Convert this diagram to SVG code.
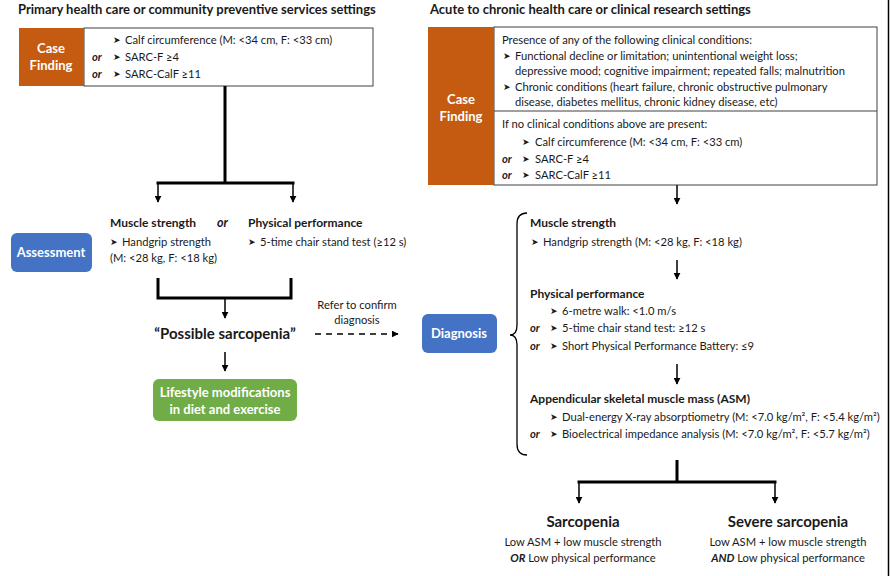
<svg xmlns="http://www.w3.org/2000/svg" width="890" height="576" viewBox="0 0 890 576">
<style>
.t{font-family:Lato,'Open Sans',sans-serif;font-size:11.2px;fill:#1a1a1a}
.b{font-weight:bold}
.hd{font-family:Lato,'Open Sans',sans-serif;font-size:12px;font-weight:bold;fill:#1a1a1a}
.h{font-family:Lato,'Open Sans',sans-serif;font-size:13px;font-weight:bold;fill:#1a1a1a}
.or{font-weight:bold;font-style:italic}
.w{font-family:Lato,'Open Sans',sans-serif;font-size:13px;font-weight:bold;fill:#fff;text-anchor:middle}
.ar{font-family:'DejaVu Sans',sans-serif;font-size:9px;fill:#1a1a1a}
.big{font-family:Lato,'Open Sans',sans-serif;font-size:15px;font-weight:bold;fill:#1a1a1a;text-anchor:middle}
.c{text-anchor:middle}
.thick{stroke:#000;stroke-width:3;fill:none}
.thin{stroke:#000;stroke-width:1.5;fill:none}
.box{fill:#fff;stroke:#404040;stroke-width:1}
</style>
<defs>
<marker id="ah" viewBox="0 0 10 10" refX="9" refY="5" markerWidth="7" markerHeight="7" markerUnits="userSpaceOnUse" orient="auto">
<path d="M0,0 L10,5 L0,10 z" fill="#000"/>
</marker>
</defs>
<rect width="890" height="576" fill="#fff"/>
<line x1="888.5" y1="0" x2="888.5" y2="576" stroke="#000" stroke-width="1.5"/>

<text class="h" x="18" y="14">Primary health care or community preventive services settings</text>
<text class="h" x="430" y="14">Acute to chronic health care or clinical research settings</text>

<g id="left-case-finding">
<rect class="box" x="84" y="28" width="289" height="58"/>
<rect x="19" y="28" width="65" height="58" fill="#C55A11"/>
<text class="w" x="51" y="53">Case</text>
<text class="w" x="51" y="70">Finding</text>
<text class="ar" x="113" y="43">➤</text><text class="t" x="125" y="44">Calf circumference (M: &lt;34 cm, F: &lt;33 cm)</text>
<text class="t or" x="92" y="61">or</text><text class="ar" x="113" y="60">➤</text><text class="t" x="125" y="61">SARC-F ≥4</text>
<text class="t or" x="92" y="78">or</text><text class="ar" x="113" y="77">➤</text><text class="t" x="125" y="78">SARC-CalF ≥11</text>
</g>

<g id="assessment">
<rect x="11" y="233" width="81" height="39" rx="6" fill="#4472C4"/>
<text class="w" x="51" y="257">Assessment</text>
<text class="hd" x="110" y="227">Muscle strength</text>
<text class="t or" x="217" y="227" style="font-size:12.5px">or</text>
<text class="hd" x="248" y="227">Physical performance</text>
<text class="ar" x="110" y="245">➤</text><text class="t" x="122" y="246">Handgrip strength</text>
<text class="t" x="110" y="262">(M: &lt;28 kg, F: &lt;18 kg)</text>
<text class="ar" x="248" y="245">➤</text><text class="t" x="260" y="246">5-time chair stand test (≥12 s)</text>
</g>

<g id="possible-sarcopenia">
<text class="big" x="225" y="339">“Possible sarcopenia”</text>
</g>

<g id="lifestyle">
<rect x="153" y="379" width="144" height="42" rx="6" fill="#70AD47"/>
<text class="w" x="225" y="397">Lifestyle modifications</text>
<text class="w" x="225" y="414">in diet and exercise</text>
</g>

<g id="refer-label">
<text class="t c" x="357" y="309">Refer to confirm</text>
<text class="t c" x="357" y="324">diagnosis</text>
</g>

<g id="right-case-finding">
<rect class="box" x="494" y="27" width="383" height="158"/>
<line x1="494" y1="111" x2="877" y2="111" stroke="#404040" stroke-width="1"/>
<rect x="428" y="27" width="66" height="158" fill="#C55A11"/>
<text class="w" x="461" y="104">Case</text>
<text class="w" x="461" y="121">Finding</text>
<text class="t" x="502" y="44">Presence of any of the following clinical conditions:</text>
<text class="ar" x="503" y="59">➤</text><text class="t" x="515" y="60">Functional decline or limitation; unintentional weight loss;</text>
<text class="t" x="515" y="75">depressive mood; cognitive impairment; repeated falls; malnutrition</text>
<text class="ar" x="503" y="90">➤</text><text class="t" x="515" y="91">Chronic conditions (heart failure, chronic obstructive pulmonary</text>
<text class="t" x="515" y="106">disease, diabetes mellitus, chronic kidney disease, etc)</text>
<text class="t" x="502" y="128">If no clinical conditions above are present:</text>
<text class="ar" x="522" y="145">➤</text><text class="t" x="535" y="146">Calf circumference (M: &lt;34 cm, F: &lt;33 cm)</text>
<text class="t or" x="502" y="163">or</text><text class="ar" x="522" y="162">➤</text><text class="t" x="535" y="163">SARC-F ≥4</text>
<text class="t or" x="502" y="179">or</text><text class="ar" x="522" y="178">➤</text><text class="t" x="535" y="179">SARC-CalF ≥11</text>
</g>

<g id="diagnosis">
<rect x="422" y="314" width="75" height="39" rx="6" fill="#4472C4"/>
<text class="w" x="459" y="338">Diagnosis</text>
<path d="M527,213 Q517,213 517,224 L517,325 Q517,335 510,335 Q517,335 517,345 L517,444 Q517,455 527,455" fill="none" stroke="#000" stroke-width="1.3"/>
<text class="hd" x="530" y="227">Muscle strength</text>
<text class="ar" x="531" y="245">➤</text><text class="t" x="543" y="246">Handgrip strength (M: &lt;28 kg, F: &lt;18 kg)</text>
<text class="hd" x="530" y="298">Physical performance</text>
<text class="ar" x="550" y="314">➤</text><text class="t" x="562" y="315">6-metre walk: &lt;1.0 m/s</text>
<text class="t or" x="530" y="332">or</text><text class="ar" x="550" y="331">➤</text><text class="t" x="562" y="332">5-time chair stand test: ≥12 s</text>
<text class="t or" x="530" y="350">or</text><text class="ar" x="550" y="349">➤</text><text class="t" x="562" y="350">Short Physical Performance Battery: ≤9</text>
<text class="hd" x="530" y="403">Appendicular skeletal muscle mass (ASM)</text>
<text class="ar" x="550" y="420">➤</text><text class="t" x="562" y="421">Dual-energy X-ray absorptiometry (M: &lt;7.0 kg/m², F: &lt;5.4 kg/m²)</text>
<text class="t or" x="530" y="438">or</text><text class="ar" x="550" y="437">➤</text><text class="t" x="562" y="438">Bioelectrical impedance analysis (M: &lt;7.0 kg/m², F: &lt;5.7 kg/m²)</text>
</g>

<g id="sarcopenia">
<text class="big" x="583" y="527">Sarcopenia</text>
<text class="t c" x="583" y="546">Low ASM + low muscle strength</text>
<text class="t c" x="583" y="562"><tspan class="or">OR</tspan> Low physical performance</text>
</g>

<g id="severe-sarcopenia">
<text class="big" x="788" y="527">Severe sarcopenia</text>
<text class="t c" x="788" y="546">Low ASM + low muscle strength</text>
<text class="t c" x="788" y="562"><tspan class="or">AND</tspan> Low physical performance</text>
</g>

<g id="connectors">
<path class="thick" d="M225,86 V183 M156.5,183 H294.5"/>
<line class="thin" x1="158" y1="183" x2="158" y2="202" marker-end="url(#ah)"/>
<line class="thin" x1="293" y1="183" x2="293" y2="202" marker-end="url(#ah)"/>
<path class="thick" d="M158,278 V298 H291 V278"/>
<line class="thin" x1="225" y1="298" x2="225" y2="318" marker-end="url(#ah)"/>
<line class="thin" x1="225" y1="352" x2="225" y2="371" marker-end="url(#ah)"/>
<line class="thin" x1="315" y1="334" x2="398" y2="334" stroke-dasharray="6,5" marker-end="url(#ah)"/>
<line class="thin" x1="677" y1="185" x2="677" y2="204" marker-end="url(#ah)"/>
<line class="thin" x1="677" y1="260" x2="677" y2="279" marker-end="url(#ah)"/>
<line class="thin" x1="677" y1="364" x2="677" y2="384" marker-end="url(#ah)"/>
<path class="thick" d="M677,460 V482 M577.5,482 H776.5"/>
<line class="thin" x1="579" y1="482" x2="579" y2="503" marker-end="url(#ah)"/>
<line class="thin" x1="775" y1="482" x2="775" y2="503" marker-end="url(#ah)"/>
</g>
</svg>
